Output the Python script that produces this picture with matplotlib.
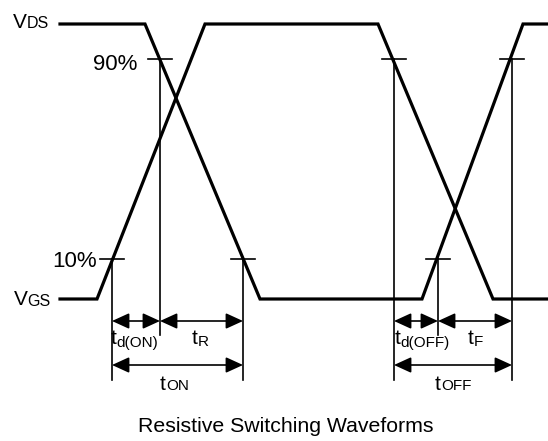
import numpy as np
import matplotlib
matplotlib.use("Agg")
import matplotlib.pyplot as plt
from matplotlib.patches import FancyArrowPatch

plt.rcParams['font.family'] = ['Liberation Sans', 'DejaVu Sans']

# ---- data (time in arbitrary units, level as fraction of amplitude) ----
vgs_t = [60, 97, 205, 378, 493, 548]
vgs_level = [0, 0, 1, 1, 0, 0]
vds_t = [60, 145, 260, 422, 523, 548]
vds_level = [1, 1, 0, 0, 1, 1]

threshold_labels = ["10%", "90%"]
threshold_levels = [0.145, 0.873]

# timing marks: (time, level)
on_marks_t = [112, 160, 243]
on_marks_level = [0.145, 0.873, 0.145]
off_marks_t = [394, 438, 512]
off_marks_level = [0.873, 0.145, 0.873]

# ---- layout ----
W, H = 548, 441
Y0, Y1 = 299, 24          # pixel rows of level 0 and level 1
def lv(py):
    return (Y0 - py) / (Y0 - Y1)

fig = plt.figure(figsize=(W / 100, H / 100), dpi=100)
ax = fig.add_axes([0, 0, 1, 1])
ax.set_xlim(0, W)
ax.set_ylim(lv(H), lv(0))
ax.axis('off')
renderer = fig.canvas.get_renderer()

thick = 2.3
thin = 1.2
ax.plot(vgs_t, vgs_level, color='black', lw=thick, solid_joinstyle='miter')
ax.plot(vds_t, vds_level, color='black', lw=thick, solid_joinstyle='miter')

tick_half = 12
for marks_t, marks_l in ((on_marks_t, on_marks_level), (off_marks_t, off_marks_level)):
    for i, (t, l) in enumerate(zip(marks_t, marks_l)):
        ax.plot([t - tick_half, t + tick_half], [l, l], color='black', lw=thin)
        bottom = lv(335) if i == 1 else lv(380)
        ax.plot([t, t], [l, bottom], color='black', lw=thin)

def darrow(x0, x1, y):
    a = FancyArrowPatch((x0, y), (x1, y), arrowstyle='<|-|>,head_length=10.5,head_width=4.8',
                        mutation_scale=1, shrinkA=0, shrinkB=0, color='black', lw=thin)
    ax.add_patch(a)

for marks_t in (on_marks_t, off_marks_t):
    darrow(marks_t[0], marks_t[1], lv(321))
    darrow(marks_t[1], marks_t[2], lv(321))
    darrow(marks_t[0], marks_t[2], lv(365))

def label(x, yb, main, sub, fs_main, fs_sub, drop=0.0, gap=0.0):
    t = ax.text(x, lv(yb), main, fontsize=fs_main, ha='left', va='baseline')
    bb = t.get_window_extent(renderer)
    x1 = ax.transData.inverted().transform((bb.x1, bb.y0))[0]
    ax.text(x1 + gap, lv(yb + drop), sub, fontsize=fs_sub, ha='left', va='baseline')

label(13, 27.5, 'V', 'DS', 15, 11.5, drop=0.5, gap=-0.5)
label(14, 305, 'V', 'GS', 15, 11.5, drop=0.5, gap=-0.5)
ax.text(137, lv(70), threshold_labels[1], fontsize=16, ha='right', va='baseline')
ax.text(97, lv(267), threshold_labels[0], fontsize=16, ha='right', va='baseline')

fs_t, fs_s = 15, 11
label(111, 344, 't', 'd(ON)', fs_t, fs_s, drop=2.5, gap=-0.5)
label(192, 344, 't', 'R', fs_t, fs_s, drop=1.5, gap=0)
label(160, 390, 't', 'ON', fs_t, fs_s, drop=0.5, gap=0)
label(395, 344, 't', 'd(OFF)', fs_t, fs_s, drop=2.5, gap=-0.5)
label(468, 344, 't', 'F', fs_t, fs_s, drop=1.5, gap=0)
label(435, 390, 't', 'OFF', fs_t, fs_s, drop=0.5, gap=0)

ax.text(285.5, lv(432), 'Resistive Switching Waveforms', fontsize=15.3, ha='center', va='baseline')

fig.savefig('out.png', dpi=100, facecolor='white')
